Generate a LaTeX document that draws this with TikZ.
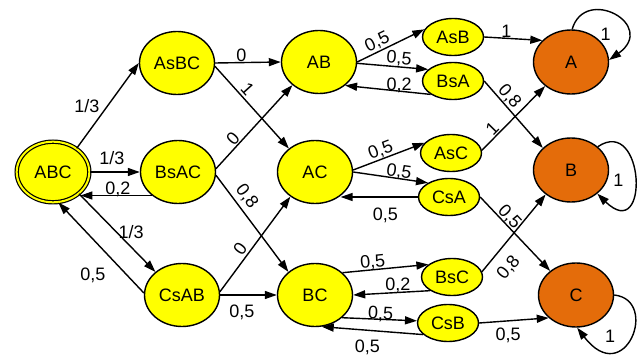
\documentclass[tikz,border=0pt]{standalone}
\usepackage{fontspec}
\setmainfont{Liberation Sans}
\usetikzlibrary{arrows.meta,shapes.geometric}
\definecolor{stateyellow}{RGB}{255,255,0}
\definecolor{stateorange}{RGB}{228,108,10}
\begin{document}
\begin{tikzpicture}[x=1pt,y=-1pt,
  every node/.style={font=\fontsize{18}{20}\selectfont},
  bigstate/.style={ellipse,draw,line width=1.4pt,fill=stateyellow,minimum width=75pt,minimum height=63pt,inner sep=0pt},
  smallstate/.style={ellipse,draw,line width=1.4pt,fill=stateyellow,minimum width=61pt,minimum height=37pt,inner sep=0pt},
  endstate/.style={bigstate,fill=stateorange,minimum height=64pt},
  startstate/.style={ellipse,draw,line width=1.2pt,double=stateyellow,double distance=2pt,fill=stateyellow,minimum width=72.6pt,minimum height=60.6pt,inner sep=0pt},
  arr/.style={-{Triangle[length=12pt,width=8pt]},line width=1.4pt},
  lbl/.style={inner sep=0pt}]
\useasboundingbox[fill=white] (0,0) rectangle (638,355);
% states
\node[startstate] (ABC) at (53,172) {ABC};
\node[bigstate] (AsBC) at (177,63) {AsBC};
\node[bigstate] (BsAC) at (178,172) {BsAC};
\node[bigstate] (CsAB) at (182,295) {CsAB};
\node[bigstate] (AB) at (319,62) {AB};
\node[bigstate] (AC) at (315,172) {AC};
\node[bigstate] (BC) at (315,295) {BC};
\node[smallstate] (AsB) at (453,37) {AsB};
\node[smallstate] (BsA) at (453,81) {BsA};
\node[smallstate] (AsC) at (451,153) {AsC};
\node[smallstate] (CsA) at (449,197) {CsA};
\node[smallstate] (BsC) at (452,277) {BsC};
\node[smallstate] (CsB) at (448,323) {CsB};
\node[endstate] (A) at (571,62) {A};
\node[endstate] (B) at (571,170) {B};
\node[endstate] (C) at (576,295) {C};
% first column
\draw[arr] (ABC.45) -- (AsBC.180) node[lbl,pos=0.49,left=7pt] (l1) {1/3};
\draw[arr] (ABC.0) -- (BsAC.180) node[lbl,pos=0.44,above=6.5pt] (l2) {1/3};
\draw[arr] (BsAC.222) -- (ABC.-37 |- BsAC.222) node[lbl,pos=0.475,above=-2pt] (l3) {0,2};
\draw[arr] (ABC.-40) -- (CsAB.139) node[lbl,pos=0.49,right=1.4pt] (l4) {1/3};
\draw[arr] (CsAB.177) -- (ABC.-80) node[lbl,pos=0.41,anchor=north east,xshift=-2.7pt,yshift=-11.8pt] (l5) {0,5};
% second column
\draw[arr] (AsBC.0) -- (AB.180) node[lbl,pos=0.4,above=0.5pt] (l6) {0};
\draw[arr] (AsBC.-5) -- (AC.138) node[lbl,pos=0.35,sloped,above=2pt] (l7) {1};
\draw[arr] (BsAC.5) -- (AB.221) node[lbl,pos=0.3,sloped,above=1pt] (l8) {0};
\draw[arr] (BsAC.-5) -- (BC.139) node[lbl,pos=0.29,sloped,above=4pt] (l9) {0,8};
\draw[arr] (CsAB.5) -- (AC.225) node[lbl,pos=0.39,sloped,above=2pt] (l10) {0};
\draw[arr] (CsAB.0) -- (BC.180) node[lbl,pos=0.385,below=9.5pt] (l11) {0,5};
% third column
\draw[arr] (AB.0) -- (AsB.165) node[lbl,pos=0.36,sloped,above=1pt] (l12) {0,5};
\draw[arr] (AB.-2) -- (BsA.155) node[lbl,pos=0.58,sloped,above=0pt] (l13) {0,5};
\draw[arr] (BsA.211) -- (AB.-42) node[lbl,pos=0.37,above=-2.5pt] (l14) {0,2};
\draw[arr] (AC.3) -- (AsC.159) node[lbl,pos=0.43,sloped,above=0.3pt] (l15) {0,5};
\draw[arr] (AC.0) -- (CsA.146) node[lbl,pos=0.6,sloped,above=-1.8pt] (l16) {0,5};
\draw[arr] (CsA.180) -- (AC.-43 |- CsA.180) node[lbl,pos=0.42,below=10.5pt] (l17) {0,5};
\draw[arr] (BC.39) -- (BsC.152) node[lbl,pos=0.36,sloped,above=-0.6pt] (l18) {0,5};
\draw[arr] (BsC.212) -- (BC.0) node[lbl,pos=0.42,above=-1.5pt] (l19) {0,2};
\draw[arr] (BC.-40) -- (CsB.176) node[lbl,pos=0.51,sloped,above=-3pt] (l20) {0,5};
\draw[arr] (CsB.205) -- (BC.-78) node[lbl,pos=0.55,below=8.5pt] (l21) {0,5};
% fourth column
\draw[arr] (AsB.0) -- (A.143) node[lbl,pos=0.38,above=0pt] (l22) {1};
\draw[arr] (BsA.0) -- (B.142) node[lbl,pos=0.32,sloped,above=0.5pt] (l23) {0,8};
\draw[arr] (AsC.5) -- (A.223) node[lbl,pos=0.25,sloped,above=0.8pt] (l24) {1};
\draw[arr] (CsA.0) -- (C.137) node[lbl,pos=0.34,sloped,above=-0.6pt] (l25) {0,5};
\draw[arr] (BsC.10) -- (B.224) node[lbl,pos=0.2,sloped,below=10pt] (l26) {0,8};
\draw[arr] (CsB.0) -- (C.220) node[lbl,pos=0.415,below=6.5pt] (l27) {0,5};
% self loops
\draw[arr] (A.88) .. controls (585,-15) and (658,25) .. (A.3) node[lbl,pos=0.75,left=14.5pt] (l28) {1};
\draw[arr] (B.41) .. controls (645,115) and (650,245) .. (B.-42) node[lbl,pos=0.5,left=11pt,yshift=-3pt] (l29) {1};
\draw[arr] (C.0) .. controls (660,300) and (625,390) .. (C.-88) node[lbl,pos=0.5,left=15pt] (l30) {1};
\end{tikzpicture}
\end{document}
